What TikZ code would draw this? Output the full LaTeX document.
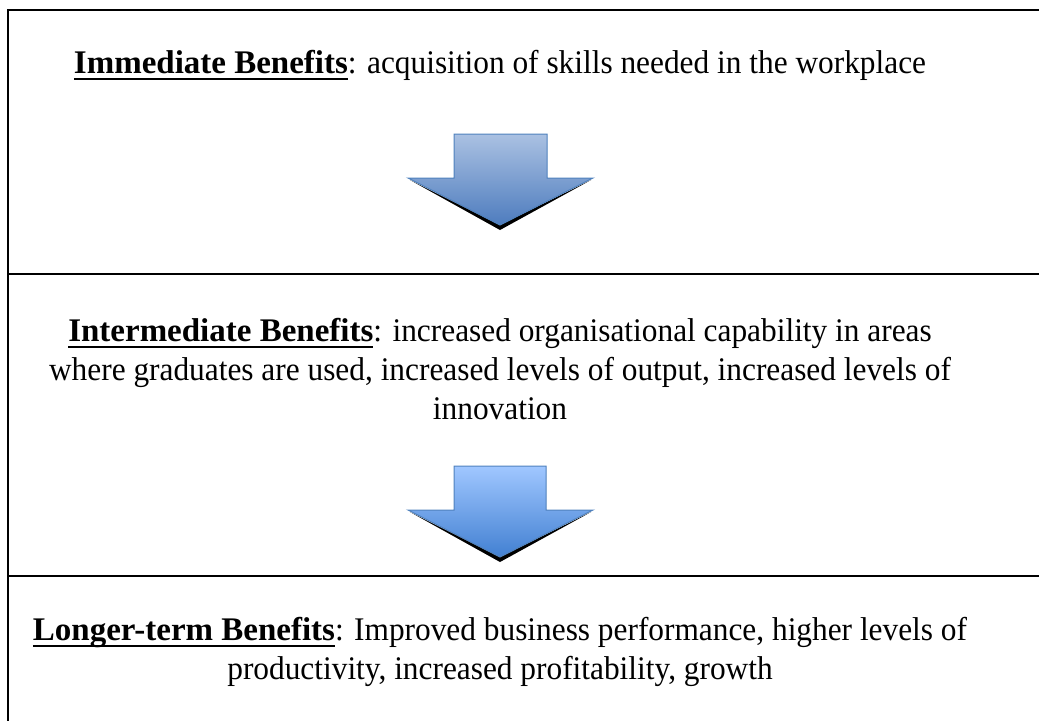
\documentclass[tikz,border=0pt]{standalone}
\usepackage{fontspec}
\setmainfont{Liberation Serif}[UprightFeatures={FakeStretch=0.95}]
\definecolor{arrowedge}{RGB}{79,129,189}
\definecolor{aonetop}{RGB}{170,193,226}
\definecolor{aonebot}{RGB}{78,124,190}
\definecolor{atwotop}{RGB}{160,199,255}
\definecolor{atwobot}{RGB}{66,128,210}
\newcommand{\myul}[1]{\setbox0\hbox{\bfseries #1}\rlap{\rule[-3.6pt]{\wd0}{1.1pt}}\box0}
\begin{document}
\begin{tikzpicture}[x=0.5pt,y=-0.5pt,
  frame/.style={line width=1pt,line cap=rect},
  txt/.style={inner sep=0pt,anchor=base,font=\fontsize{16.5}{19.5}\selectfont},
  arrowbody/.style={draw=arrowedge,line width=0.5pt,top color=#1top,bottom color=#1bot},
  arrowshadow/.style={fill=black}]
\useasboundingbox (0,0) rectangle (1039,720);
% frame
\draw[frame] (8,721) -- (8,10) -- (1040,10);
\draw[frame] (8,273.5) -- (1040,273.5);
\draw[frame] (8,575.5) -- (1040,575.5);
% texts
\node[txt] (imm) at (500,73) {\myul{Immediate Benefits}: acquisition of skills needed in the workplace};
\node[txt] (intA) at (500,341) {\myul{Intermediate Benefits}: increased organisational capability in areas};
\node[txt] (intB) at (500,380) {where graduates are used, increased levels of output, increased levels of};
\node[txt] (intC) at (500,419) {innovation};
\node[txt] (lngA) at (500,640) {\myul{Longer-term Benefits}: Improved business performance, higher levels of};
\node[txt] (lngB) at (500,679) {productivity, increased profitability, growth};
% arrow 1
\fill[arrowshadow] (410,180) -- (500,230) -- (591,180) -- (500,225) -- cycle;
\path[arrowbody=aone] (454,134) -- (547,134) -- (547,178) -- (593,178) -- (500,225) -- (408,178) -- (454,178) -- cycle;
% arrow 2
\fill[arrowshadow] (410,512) -- (500,562) -- (591,512) -- (500,557) -- cycle;
\path[arrowbody=atwo] (454,466) -- (546,466) -- (546,510) -- (593,510) -- (500,557) -- (408,510) -- (454,510) -- cycle;
\end{tikzpicture}
\end{document}
